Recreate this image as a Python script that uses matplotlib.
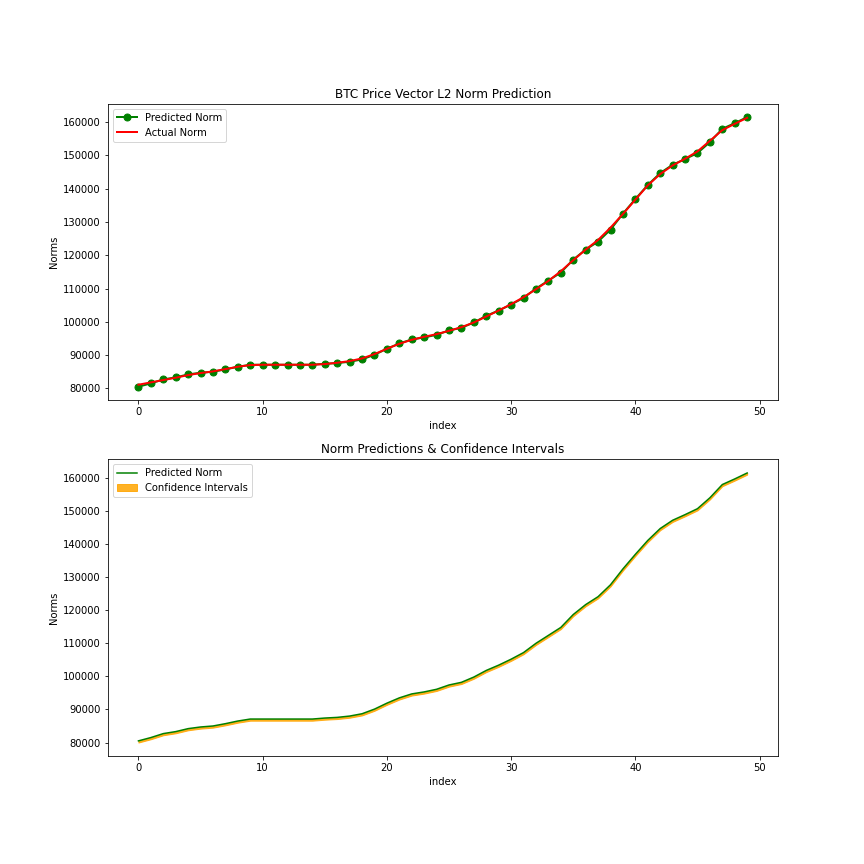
import numpy as np
import matplotlib
matplotlib.use("Agg")
import matplotlib.pyplot as plt

index = list(range(50))

predicted_norm = [80500, 81500, 82700, 83300, 84200, 84700, 85000, 85700, 86500, 87100,
                  87100, 87100, 87100, 87100, 87100, 87400, 87600, 88000, 88700, 90100,
                  91900, 93500, 94700, 95300, 96100, 97400, 98200, 99800, 101800, 103400,
                  105200, 107200, 110000, 112400, 114800, 118700, 121700, 124100, 127700, 132500,
                  136900, 141100, 144700, 147200, 148900, 150700, 154000, 158000, 159700, 161500]

actual_norm = [81100, 81800, 82500, 83200, 84000, 84600, 85100, 85800, 86500, 87000,
               87100, 87100, 87100, 87100, 87100, 87300, 87700, 88200, 89000, 90300,
               91900, 93400, 94600, 95500, 96300, 97300, 98400, 99800, 101600, 103400,
               105300, 107400, 109800, 112300, 115200, 118500, 121700, 124600, 128300, 132400,
               136700, 141000, 144400, 147000, 149000, 151200, 154400, 157600, 159500, 161300]

ci_lower = [80000, 81000, 82200, 82800, 83700, 84200, 84500, 85200, 86000, 86600,
            86600, 86600, 86600, 86600, 86600, 86900, 87100, 87500, 88200, 89600,
            91400, 93000, 94200, 94800, 95600, 96900, 97700, 99300, 101300, 102900,
            104700, 106700, 109500, 111900, 114300, 118200, 121200, 123600, 127200, 132000,
            136400, 140600, 144200, 146700, 148400, 150200, 153500, 157500, 159200, 161000]

ci_upper = [80500, 81500, 82700, 83300, 84200, 84700, 85000, 85700, 86500, 87100,
            87100, 87100, 87100, 87100, 87100, 87400, 87600, 88000, 88700, 90100,
            91900, 93500, 94700, 95300, 96100, 97400, 98200, 99800, 101800, 103400,
            105200, 107200, 110000, 112400, 114800, 118700, 121700, 124100, 127700, 132500,
            136900, 141100, 144700, 147200, 148900, 150700, 154000, 158000, 159700, 161500]

fig, (ax1, ax2) = plt.subplots(2, 1, figsize=(12, 12), dpi=72)
fig.subplots_adjust(bottom=0.125)

# top panel: predicted vs actual
ax1.plot(index, predicted_norm, marker='o', color='green', linewidth=2, markersize=7, label='Predicted Norm')
ax1.plot(index, actual_norm, color='red', linewidth=2, label='Actual Norm')
ax1.set_title('BTC Price Vector L2 Norm Prediction')
ax1.set_xlabel('index')
ax1.set_ylabel('Norms')
ax1.legend(loc='upper left')

# bottom panel: prediction with confidence band
ax2.plot(index, predicted_norm, color='green', linewidth=1.5, label='Predicted Norm')
ax2.fill_between(index, ci_lower, ci_upper, color='orange', alpha=0.85, label='Confidence Intervals')
ax2.set_title('Norm Predictions & Confidence Intervals')
ax2.set_xlabel('index')
ax2.set_ylabel('Norms')
ax2.legend(loc='upper left')

plt.savefig('out.png', dpi=72)
